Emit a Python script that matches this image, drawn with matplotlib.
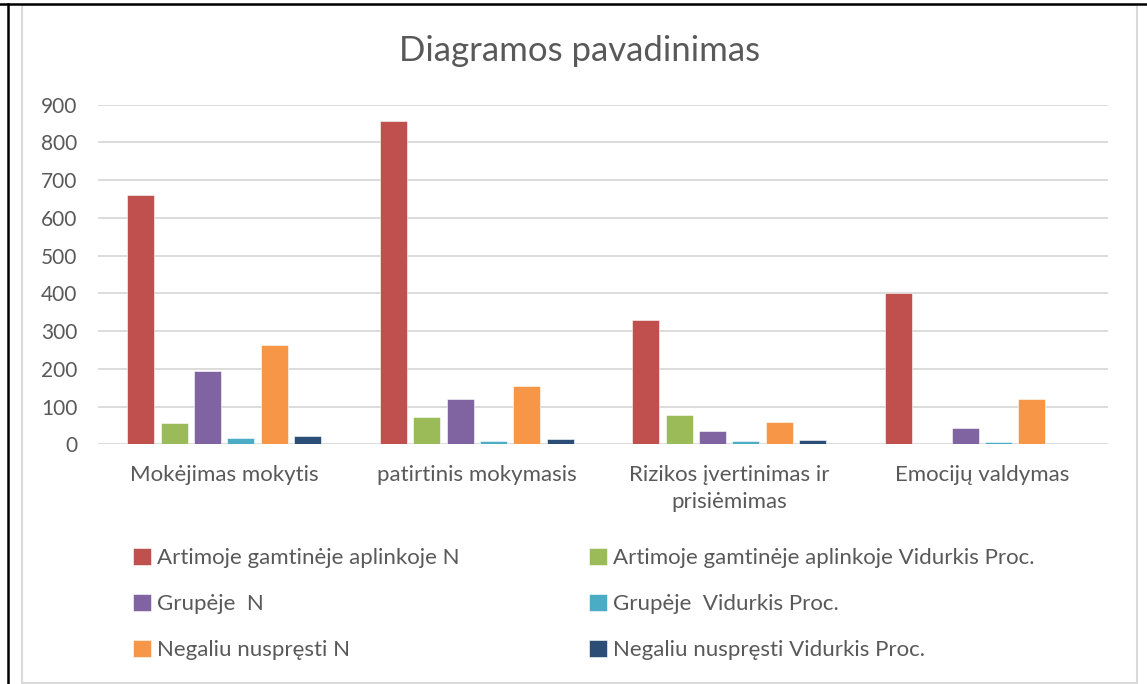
import numpy as np
import matplotlib.pyplot as plt
from matplotlib.lines import Line2D
from matplotlib.patches import Rectangle

plt.rcParams['font.family'] = ['Lato', 'DejaVu Sans']

kategorijos = ['Mokėjimas mokytis', 'patirtinis mokymasis',
               'Rizikos įvertinimas ir\nprisiėmimas', 'Emocijų valdymas']

serijos = ['Artimoje gamtinėje aplinkoje N',
           'Artimoje gamtinėje aplinkoje Vidurkis Proc.',
           'Grupėje  N',
           'Grupėje  Vidurkis Proc.',
           'Negaliu nuspręsti N',
           'Negaliu nuspręsti Vidurkis Proc.']

gamta_n = [660, 856, 329, 400]
gamta_proc = [57, 73, 78, 0]
grupe_n = [193, 121, 36, 43]
grupe_proc = [16, 9, 9, 6]
negaliu_n = [264, 155, 60, 121]
negaliu_proc = [22, 13, 12, 0]

reiksmes = [gamta_n, gamta_proc, grupe_n, grupe_proc, negaliu_n, negaliu_proc]
spalvos = ['#C0504D', '#9BBB59', '#8064A2', '#4BACC6', '#F79646', '#2C4D75']

tekstas = '#595959'
tinklas = '#D9D9D9'

W, H = 1147, 684
fig = plt.figure(figsize=(W / 100, H / 100), dpi=100)

# remeliai (pilkas diagramos ir juodas puslapio)
fig.add_artist(Rectangle((22 / W, 1 - 683 / H), (1137 - 22) / W, (683 - 5) / H,
                         transform=fig.transFigure, fill=False,
                         edgecolor=tinklas, linewidth=1.5))
fig.add_artist(Line2D([0, 1], [1 - 3.5 / H, 1 - 3.5 / H], color='black', linewidth=1.8))
fig.add_artist(Line2D([8 / W, 8 / W], [0, 1 - 3.5 / H], color='black', linewidth=1.8))

ax = fig.add_axes([98 / W, 1 - 444.3 / H, (1108 - 98) / W, (444.3 - 104.7) / H])

x = np.arange(len(kategorijos))
zingsnis = 0.132
plotis = 0.107
handles = []
for i, (vardas, v, c) in enumerate(zip(serijos, reiksmes, spalvos)):
    b = ax.bar(x + (i - 2.5) * zingsnis, v, plotis, color=c, label=vardas,
               edgecolor='white', linewidth=0.4, zorder=3)
    handles.append(b)

ax.set_xlim(-0.5, len(kategorijos) - 0.5)
ax.set_ylim(0, 900)
ax.set_yticks(range(0, 901, 100))
ax.yaxis.grid(True, color=tinklas, linewidth=1.3, zorder=0)
ax.set_axisbelow(True)
for s in ax.spines.values():
    s.set_visible(False)
ax.set_xticks(x)
ax.set_xticklabels(kategorijos, linespacing=1.4, fontsize=16)
ax.tick_params(axis='both', length=0, colors=tekstas)
ax.tick_params(axis='y', pad=15, labelsize=15)
ax.tick_params(axis='x', pad=15)

fig.text(580 / W, 1 - 51 / H, 'Diagramos pavadinimas', ha='center', va='center',
         fontsize=25, color=tekstas)

kw = dict(frameon=False, fontsize=16, labelcolor=tekstas, handlelength=0.8,
          handleheight=0.8, handletextpad=0.3, labelspacing=1.15,
          borderpad=0, borderaxespad=0, loc='upper left')
leg1 = fig.legend([handles[0], handles[2], handles[4]],
                  [serijos[0], serijos[2], serijos[4]],
                  bbox_to_anchor=(133 / W, 1 - 548 / H), **kw)
leg2 = fig.legend([handles[1], handles[3], handles[5]],
                  [serijos[1], serijos[3], serijos[5]],
                  bbox_to_anchor=(589 / W, 1 - 548 / H), **kw)

fig.savefig('out.png', dpi=100)
